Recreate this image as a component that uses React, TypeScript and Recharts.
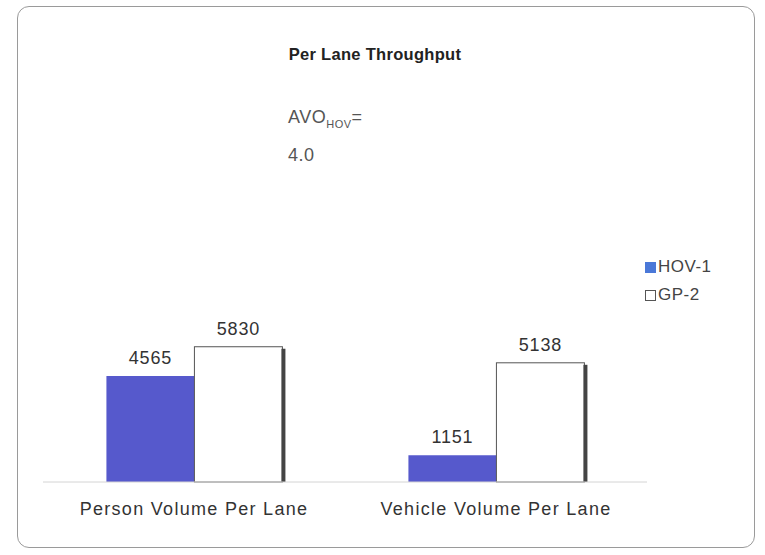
import * as React from "react";
import { BarChart, Bar, XAxis, YAxis, LabelList } from "recharts";

// 数据
const categories = ["Person Volume Per Lane", "Vehicle Volume Per Lane"];
const hovValues = [4565, 1151];
const gpValues = [5830, 5138];
const seriesNames = ["HOV-1", "GP-2"];

const data = categories.map((name, i) => ({
  name,
  hov: hovValues[i],
  gp: gpValues[i],
}));

const FONT = "'Liberation Sans', Arial, sans-serif";
const HOV_COLOR = "#5659cc";
const TEXT = "#333";

// GP 柱：白底 + 右侧深色阴影
function GpShape(props: any) {
  const { x, y, width, height } = props;
  if (!height || height <= 0) return null;
  return (
    <g>
      <rect x={x} y={y} width={width} height={height} fill="#ffffff" stroke="#555" strokeWidth={1} />
      <rect x={x + width - 1} y={y + 2} width={4} height={height - 2} fill="#444" />
    </g>
  );
}

// 图例（手工放在右侧）
function LegendBox() {
  const sq = (bg: string, bd: string) => (
    <span style={{ width: 9, height: 9, background: bg, border: `1px solid ${bd}`, marginRight: 2, display: "inline-block" }} />
  );
  return (
    <div style={{ position: "absolute", left: 627, top: 246, fontSize: 17, color: "#444", lineHeight: "28px", letterSpacing: 0.5 }}>
      <div style={{ display: "flex", alignItems: "center" }}>
        {sq("#4a78d8", "#4a78d8")}
        {seriesNames[0]}
      </div>
      <div style={{ display: "flex", alignItems: "center" }}>
        {sq("#fff", "#555")}
        {seriesNames[1]}
      </div>
    </div>
  );
}

const labelStyle = { fontSize: 18, fill: TEXT, fontFamily: FONT, letterSpacing: 0.8 };

export default function App() {
  return (
    <div
      style={{
        position: "absolute",
        left: 17,
        top: 6,
        width: 738,
        height: 542,
        border: "1px solid #9a9a9a",
        borderRadius: 12,
        boxSizing: "border-box",
        background: "#fff",
        fontFamily: FONT,
      }}
    >
      <div style={{ position: "absolute", left: -12, width: 738, top: 38, textAlign: "center", fontSize: 16.5, fontWeight: 700, color: "#222", letterSpacing: 0.3 }}>
        Per Lane Throughput
      </div>
      <div style={{ position: "absolute", left: 270, top: 92, fontSize: 18, color: "#555", lineHeight: "36px", letterSpacing: 0.5 }}>
        <div>
          AVO<sub style={{ fontSize: 11 }}>HOV</sub>=
        </div>
        <div style={{ marginTop: -5 }}>4.0</div>
      </div>
      <LegendBox />
      <BarChart
        width={738}
        height={540}
        data={data}
        margin={{ top: 243, right: 109, bottom: 2, left: 25 }}
        barCategoryGap="21%"
        barGap={0}
      >
        <XAxis
          dataKey="name"
          height={63}
          tickLine={false}
          tickSize={0}
          tickMargin={20}
          axisLine={{ stroke: "#d4d4d4" }}
          tick={{ fontSize: 18, fill: TEXT, fontFamily: FONT, letterSpacing: 1.3 }}
        />
        <YAxis hide domain={[0, 10000]} />
        <Bar dataKey="hov" name={seriesNames[0]} fill={HOV_COLOR} isAnimationActive={false}>
          <LabelList dataKey="hov" position="top" offset={12} style={labelStyle} />
        </Bar>
        <Bar dataKey="gp" name={seriesNames[1]} shape={<GpShape />} isAnimationActive={false}>
          <LabelList dataKey="gp" position="top" offset={12} style={labelStyle} />
        </Bar>
      </BarChart>
    </div>
  );
}
